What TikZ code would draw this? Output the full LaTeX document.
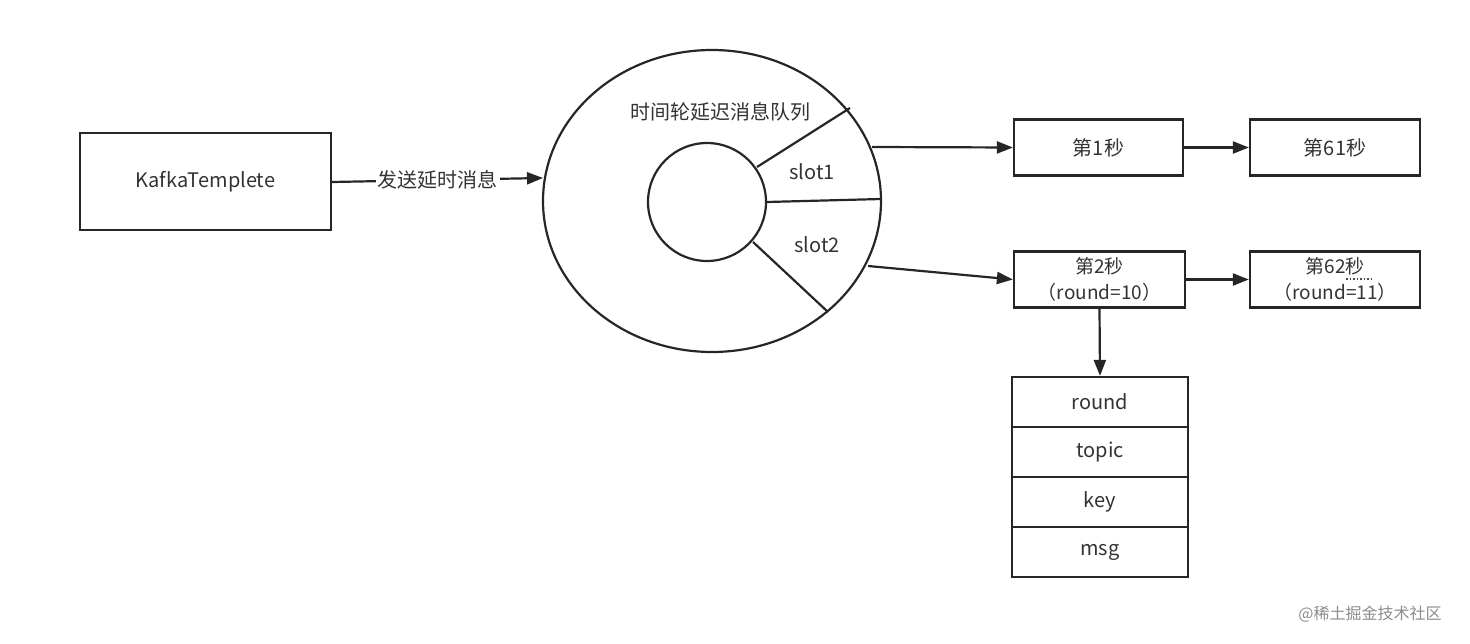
\documentclass[tikz,border=0pt]{standalone}
\usepackage{fontspec}
\setmainfont{Noto Sans CJK SC}
\usetikzlibrary{arrows.meta}
\begin{document}
\begin{tikzpicture}[x=1pt,y=-1pt,line width=2.2pt,
 box/.style={draw=black!85,minimum width=#1,minimum height=56pt,inner sep=0pt,font=\fontsize{20}{24}\selectfont,text=black!80,align=center},
 arr/.style={-{Triangle[length=16pt,width=12pt]},draw=black!85},
 lbl/.style={font=\fontsize{20}{24}\selectfont,text=black!80}]
\useasboundingbox (0,0) rectangle (1470,644);
\node[box=251pt,minimum height=97pt] (k) at (205.5,181.5) {KafkaTemplete};
\draw[draw=black!85] (712,201) ellipse[x radius=169,y radius=151];
\node[draw=black!85,circle,minimum size=118pt,inner sep=0pt] (c) at (707,202) {};
\coordinate (e) at (543,178);
\draw[draw=black!85] (757,167) -- (850,108);
\draw[draw=black!85] (767,202) -- (881,199);
\draw[draw=black!85] (753,242) -- (828,312);
\node[lbl] (t) at (720,112) {时间轮延迟消息队列};
\node[lbl] (s1) at (812,172) {slot1};
\node[lbl] (s2) at (817,245) {slot2};
\node[box=169pt] (b1) at (1098.5,147.5) {第1秒};
\node[box=170pt] (b61) at (1335,147.5) {第61秒};
\node[box=171pt,font=\fontsize{19}{26}\selectfont] (b2) at (1099.5,279.5) {第2秒\\（round=10）};
\node[box=170pt,font=\fontsize{19}{26}\selectfont] (b62) at (1335,279.5) {第62秒\\（round=11）};
\draw[dotted,line width=1.5pt,black!70] (1346,279) -- (1372,279);
\coordinate (o1) at (872,147);
\coordinate (o2) at (868,266);
\draw[arr] (k.east |- 0,182) -- node[fill=white,lbl,inner sep=2pt] {发送延时消息} (e);
\draw[arr] (o1) -- (b1.west);
\draw[arr] (b1) -- (b61);
\draw[arr] (o2) -- (b2.west);
\draw[arr] (b2) -- (b62);
\foreach \n/\t [count=\i] in {r1/round,r2/topic,r3/key,r4/msg}
  \node[box=176pt,minimum height=50pt] (\n) at (1100,352+50*\i) {\t};
\draw[arr] (b2.south) -- (r1.north);
\node[font=\fontsize{16}{18}\selectfont,text=black!45] (w) at (1370,614) {@稀土掘金技术社区};
\end{tikzpicture}
\end{document}
